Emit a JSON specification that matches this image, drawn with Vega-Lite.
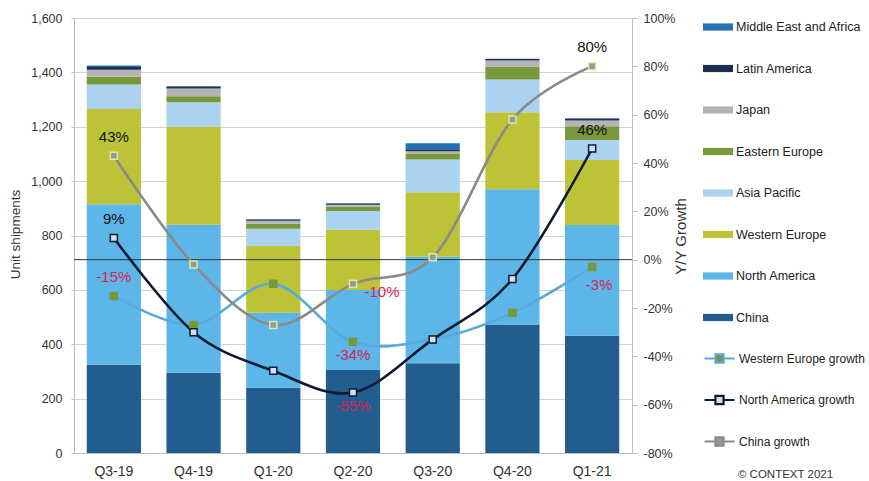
{
  "$schema": "https://vega.github.io/schema/vega-lite/v6.json",
  "width": 558,
  "height": 435,
  "autosize": {"type": "none"},
  "padding": {"left": 74, "top": 18, "right": 237, "bottom": 28},
  "background": "white",
  "config": {
    "font": "Liberation Sans, Arial",
    "locale": {"number": {"decimal": ".", "thousands": ",", "grouping": [3], "currency": ["$", ""], "minus": "-"}},
    "view": {"stroke": null},
    "axis": {
      "labelColor": "#333333",
      "titleColor": "#333333",
      "titleFontWeight": "normal",
      "domainColor": "#bdbdbd",
      "tickColor": "#bdbdbd",
      "gridColor": "#d2d2d2"
    },
    "legend": {"labelColor": "#222222", "padding": 0}
  },
  "datasets": {
    "bars": [
      {"q": "Q3-19", "region": "China", "s": 1, "units": 325},
      {"q": "Q3-19", "region": "North America", "s": 2, "units": 590},
      {"q": "Q3-19", "region": "Western Europe", "s": 3, "units": 350},
      {"q": "Q3-19", "region": "Asia Pacific", "s": 4, "units": 90},
      {"q": "Q3-19", "region": "Eastern Europe", "s": 5, "units": 29},
      {"q": "Q3-19", "region": "Japan", "s": 6, "units": 26},
      {"q": "Q3-19", "region": "Latin America", "s": 7, "units": 10},
      {"q": "Q3-19", "region": "Middle East and Africa", "s": 8, "units": 5},
      {"q": "Q4-19", "region": "China", "s": 1, "units": 295},
      {"q": "Q4-19", "region": "North America", "s": 2, "units": 545},
      {"q": "Q4-19", "region": "Western Europe", "s": 3, "units": 360},
      {"q": "Q4-19", "region": "Asia Pacific", "s": 4, "units": 90},
      {"q": "Q4-19", "region": "Eastern Europe", "s": 5, "units": 22},
      {"q": "Q4-19", "region": "Japan", "s": 6, "units": 29},
      {"q": "Q4-19", "region": "Latin America", "s": 7, "units": 7},
      {"q": "Q4-19", "region": "Middle East and Africa", "s": 8, "units": 2},
      {"q": "Q1-20", "region": "China", "s": 1, "units": 240},
      {"q": "Q1-20", "region": "North America", "s": 2, "units": 276},
      {"q": "Q1-20", "region": "Western Europe", "s": 3, "units": 245},
      {"q": "Q1-20", "region": "Asia Pacific", "s": 4, "units": 64},
      {"q": "Q1-20", "region": "Eastern Europe", "s": 5, "units": 18},
      {"q": "Q1-20", "region": "Japan", "s": 6, "units": 11},
      {"q": "Q1-20", "region": "Latin America", "s": 7, "units": 5},
      {"q": "Q1-20", "region": "Middle East and Africa", "s": 8, "units": 2},
      {"q": "Q2-20", "region": "China", "s": 1, "units": 305},
      {"q": "Q2-20", "region": "North America", "s": 2, "units": 295},
      {"q": "Q2-20", "region": "Western Europe", "s": 3, "units": 221},
      {"q": "Q2-20", "region": "Asia Pacific", "s": 4, "units": 69},
      {"q": "Q2-20", "region": "Eastern Europe", "s": 5, "units": 16},
      {"q": "Q2-20", "region": "Japan", "s": 6, "units": 7},
      {"q": "Q2-20", "region": "Latin America", "s": 7, "units": 5},
      {"q": "Q2-20", "region": "Middle East and Africa", "s": 8, "units": 2},
      {"q": "Q3-20", "region": "China", "s": 1, "units": 330},
      {"q": "Q3-20", "region": "North America", "s": 2, "units": 392},
      {"q": "Q3-20", "region": "Western Europe", "s": 3, "units": 237},
      {"q": "Q3-20", "region": "Asia Pacific", "s": 4, "units": 121},
      {"q": "Q3-20", "region": "Eastern Europe", "s": 5, "units": 22},
      {"q": "Q3-20", "region": "Japan", "s": 6, "units": 8},
      {"q": "Q3-20", "region": "Latin America", "s": 7, "units": 7},
      {"q": "Q3-20", "region": "Middle East and Africa", "s": 8, "units": 22},
      {"q": "Q4-20", "region": "China", "s": 1, "units": 473},
      {"q": "Q4-20", "region": "North America", "s": 2, "units": 497},
      {"q": "Q4-20", "region": "Western Europe", "s": 3, "units": 283},
      {"q": "Q4-20", "region": "Asia Pacific", "s": 4, "units": 121},
      {"q": "Q4-20", "region": "Eastern Europe", "s": 5, "units": 47},
      {"q": "Q4-20", "region": "Japan", "s": 6, "units": 23},
      {"q": "Q4-20", "region": "Latin America", "s": 7, "units": 5},
      {"q": "Q4-20", "region": "Middle East and Africa", "s": 8, "units": 1},
      {"q": "Q1-21", "region": "China", "s": 1, "units": 431},
      {"q": "Q1-21", "region": "North America", "s": 2, "units": 408},
      {"q": "Q1-21", "region": "Western Europe", "s": 3, "units": 239},
      {"q": "Q1-21", "region": "Asia Pacific", "s": 4, "units": 73},
      {"q": "Q1-21", "region": "Eastern Europe", "s": 5, "units": 51},
      {"q": "Q1-21", "region": "Japan", "s": 6, "units": 21},
      {"q": "Q1-21", "region": "Latin America", "s": 7, "units": 7},
      {"q": "Q1-21", "region": "Middle East and Africa", "s": 8, "units": 1}
    ],
    "growth": [
      {"q": "Q3-19", "series": "Western Europe growth", "g": -0.15},
      {"q": "Q4-19", "series": "Western Europe growth", "g": -0.27},
      {"q": "Q1-20", "series": "Western Europe growth", "g": -0.10},
      {"q": "Q2-20", "series": "Western Europe growth", "g": -0.34},
      {"q": "Q3-20", "series": "Western Europe growth", "g": -0.33},
      {"q": "Q4-20", "series": "Western Europe growth", "g": -0.22},
      {"q": "Q1-21", "series": "Western Europe growth", "g": -0.03},
      {"q": "Q3-19", "series": "China growth", "g": 0.43},
      {"q": "Q4-19", "series": "China growth", "g": -0.02},
      {"q": "Q1-20", "series": "China growth", "g": -0.27},
      {"q": "Q2-20", "series": "China growth", "g": -0.10},
      {"q": "Q3-20", "series": "China growth", "g": 0.01},
      {"q": "Q4-20", "series": "China growth", "g": 0.58},
      {"q": "Q1-21", "series": "China growth", "g": 0.80},
      {"q": "Q3-19", "series": "North America growth", "g": 0.09},
      {"q": "Q4-19", "series": "North America growth", "g": -0.30},
      {"q": "Q1-20", "series": "North America growth", "g": -0.46},
      {"q": "Q2-20", "series": "North America growth", "g": -0.55},
      {"q": "Q3-20", "series": "North America growth", "g": -0.33},
      {"q": "Q4-20", "series": "North America growth", "g": -0.08},
      {"q": "Q1-21", "series": "North America growth", "g": 0.46}
    ]
  },
  "layer": [
    {
      "data": {"name": "bars"},
      "mark": {"type": "bar"},
      "encoding": {
        "x": {
          "field": "q",
          "type": "nominal",
          "sort": null,
          "scale": {"paddingInner": 0.32, "paddingOuter": 0.16},
          "axis": {
            "title": "© CONTEXT 2021",
            "titleFontSize": 11.5,
            "titleX": 711,
            "titleY": 21,
            "titleAlign": "center",
            "titleBaseline": "middle",
            "labelAngle": 0,
            "labelFontSize": 14,
            "ticks": false,
            "tickSize": 0,
            "labelPadding": 11
          }
        },
        "y": {
          "field": "units",
          "type": "quantitative",
          "stack": "zero",
          "scale": {"domain": [0, 1600], "nice": false},
          "axis": {
            "title": "Unit shipments",
            "titleFontSize": 13.5,
            "titleX": -59,
            "titleY": 216,
            "titleAlign": "center",
            "titleBaseline": "middle",
            "values": [0, 200, 400, 600, 800, 1000, 1200, 1400, 1600],
            "format": ",d",
            "labelFontSize": 12.5,
            "tickSize": 3,
            "labelPadding": 9,
            "grid": true
          }
        },
        "color": {
          "field": "region",
          "type": "nominal",
          "scale": {
            "domain": ["Middle East and Africa", "Latin America", "Japan", "Eastern Europe", "Asia Pacific", "Western Europe", "North America", "China"],
            "range": ["#2471b8", "#1c2f50", "#b4b4b4", "#78993b", "#abd2ee", "#bcc336", "#5cb6e7", "#215d8f"]
          },
          "legend": {
            "title": null,
            "orient": "none",
            "legendX": 629,
            "legendY": -6,
            "symbolType": "M-1,-0.24H1V0.24H-1Z",
            "symbolSize": 900,
            "symbolStrokeWidth": 0,
            "labelFontSize": 12.5,
            "labelOffset": 3,
            "rowPadding": 19.5
          }
        },
        "order": {"field": "s", "type": "quantitative"}
      }
    },
    {
      "layer": [
        {
          "data": {"values": [{}]},
          "mark": {"type": "rule", "color": "#333333", "strokeWidth": 1},
          "encoding": {"y": {"datum": 0, "type": "quantitative", "scale": {"domain": [-0.8, 1.0], "nice": false}}}
        },
        {
          "data": {"name": "growth"},
          "mark": {"type": "line", "interpolate": "cardinal", "strokeWidth": 2.6},
          "encoding": {
            "x": {"field": "q", "type": "nominal", "sort": null},
            "y": {
              "field": "g",
              "type": "quantitative",
              "scale": {"domain": [-0.8, 1.0], "nice": false},
              "axis": {
                "orient": "right",
                "title": "Y/Y Growth",
                "titleFontSize": 15,
                "titleAngle": 270,
                "titleX": 48,
                "titleY": 218,
                "titleAlign": "center",
                "titleBaseline": "middle",
                "values": [-0.8, -0.6, -0.4, -0.2, 0, 0.2, 0.4, 0.6, 0.8, 1.0],
                "format": ".0%",
                "labelFontSize": 12.5,
                "tickSize": 5,
                "labelPadding": 6,
                "grid": false
              }
            },
            "stroke": {
              "field": "series",
              "type": "nominal",
              "scale": {
                "domain": ["Western Europe growth", "North America growth", "China growth"],
                "range": ["#5aa9dc", "#0c1a33", "#8a8a8a"]
              },
              "legend": {
                "title": null,
                "orient": "none",
                "legendX": 629,
                "legendY": 324,
                "symbolType": "M-1,0H-0.27M0.27,0H1M-0.27,-0.27H0.27V0.27H-0.27Z",
                "symbolSize": 900,
                "symbolStrokeWidth": 2.2,
                "labelFontSize": 12,
                "labelOffset": 3,
                "rowPadding": 16.5
              }
            }
          }
        },
        {
          "data": {"name": "growth"},
          "mark": {"type": "point", "shape": "square", "size": 50, "strokeWidth": 1.5, "filled": false, "opacity": 1},
          "encoding": {
            "x": {"field": "q", "type": "nominal", "sort": null},
            "y": {"field": "g", "type": "quantitative"},
            "stroke": {
              "field": "series",
              "type": "nominal",
              "condition": [
                {"test": "datum.series == 'China growth'", "value": "#e2e899"},
                {"test": "datum.series == 'Western Europe growth'", "value": "#78993b"}
              ],
              "legend": {
                "title": null,
                "orient": "none",
                "legendX": 629,
                "legendY": 324,
                "symbolType": "M-1,0H-0.27M0.27,0H1M-0.27,-0.27H0.27V0.27H-0.27Z",
                "symbolSize": 900,
                "symbolStrokeWidth": 2.2,
                "labelFontSize": 12,
                "labelOffset": 3,
                "rowPadding": 16.5
              }
            },
            "fill": {
              "field": "series",
              "type": "nominal",
              "scale": {
                "domain": ["Western Europe growth", "North America growth", "China growth"],
                "range": ["#78993b", "#cfe2ef", "#8e99a8"]
              },
              "legend": {
                "title": null,
                "orient": "none",
                "legendX": 629,
                "legendY": 324,
                "symbolType": "M-1,0H-0.27M0.27,0H1M-0.27,-0.27H0.27V0.27H-0.27Z",
                "symbolSize": 900,
                "symbolStrokeWidth": 2.2,
                "labelFontSize": 12,
                "labelOffset": 3,
                "rowPadding": 16.5
              }
            }
          }
        },
        {
          "data": {"name": "growth"},
          "transform": [{"filter": "datum.q == 'Q3-19' || (datum.q == 'Q1-21' && datum.series != 'Western Europe growth')"}],
          "mark": {"type": "text", "fontSize": 15, "dy": -19, "baseline": "middle", "align": "center"},
          "encoding": {
            "x": {"field": "q", "type": "nominal", "sort": null},
            "y": {"field": "g", "type": "quantitative"},
            "text": {"field": "g", "type": "quantitative", "format": ".0%"},
            "color": {"condition": {"test": "datum.g < 0", "value": "#dc2255"}, "value": "#111111"}
          }
        },
        {
          "data": {"name": "growth"},
          "transform": [{"filter": "datum.q == 'Q2-20' && datum.series != 'China growth'"}],
          "mark": {"type": "text", "fontSize": 15, "dy": 13.5, "baseline": "middle", "align": "center"},
          "encoding": {
            "x": {"field": "q", "type": "nominal", "sort": null},
            "y": {"field": "g", "type": "quantitative"},
            "text": {"field": "g", "type": "quantitative", "format": ".0%"},
            "color": {"value": "#dc2255"}
          }
        },
        {
          "data": {"name": "growth"},
          "transform": [{"filter": "datum.q == 'Q2-20' && datum.series == 'China growth'"}],
          "mark": {"type": "text", "fontSize": 15, "dx": 29, "dy": 8, "baseline": "middle", "align": "center"},
          "encoding": {
            "x": {"field": "q", "type": "nominal", "sort": null},
            "y": {"field": "g", "type": "quantitative"},
            "text": {"field": "g", "type": "quantitative", "format": ".0%"},
            "color": {"value": "#dc2255"}
          }
        },
        {
          "data": {"name": "growth"},
          "transform": [{"filter": "datum.q == 'Q1-21' && datum.series == 'Western Europe growth'"}],
          "mark": {"type": "text", "fontSize": 15, "dx": 7, "dy": 18, "baseline": "middle", "align": "center"},
          "encoding": {
            "x": {"field": "q", "type": "nominal", "sort": null},
            "y": {"field": "g", "type": "quantitative"},
            "text": {"field": "g", "type": "quantitative", "format": ".0%"},
            "color": {"value": "#dc2255"}
          }
        }
      ]
    }
  ],
  "resolve": {"scale": {"y": "independent"}}
}
